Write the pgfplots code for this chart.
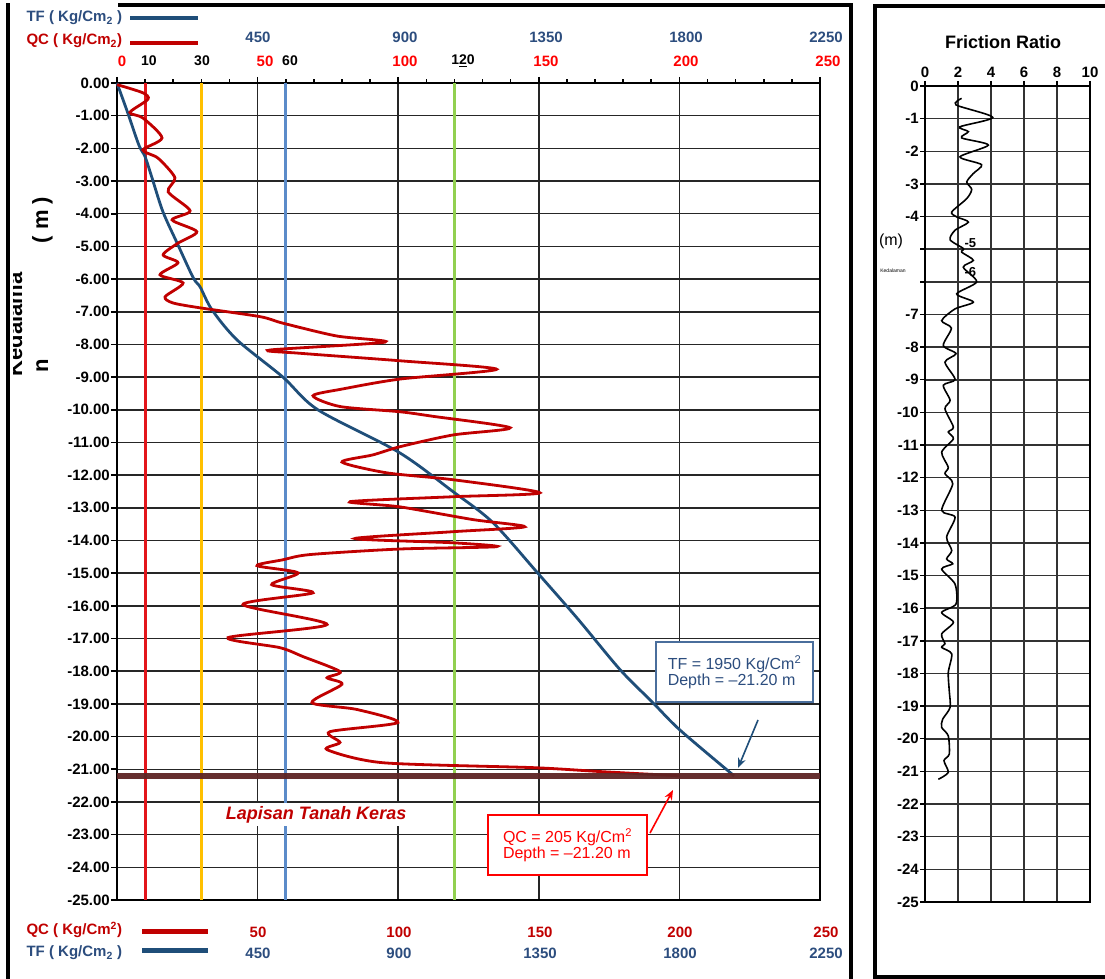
\documentclass[border=0pt]{standalone}
\usepackage{pgfplots}
\pgfplotsset{compat=1.18}
\usepackage{pgfplotstable}
\usepackage{fontspec}
\setmainfont{Liberation Sans}
\usetikzlibrary{arrows.meta}
\definecolor{qcred}{HTML}{C00000}
\definecolor{tfblue}{HTML}{1F4E79}
\definecolor{lblred}{HTML}{FF0000}
\definecolor{lblblue}{HTML}{2C4D7E}
\definecolor{refred}{HTML}{E3151B}
\definecolor{refyel}{HTML}{FFC000}
\definecolor{refblue}{HTML}{5B8BC9}
\definecolor{refgreen}{HTML}{92D050}
\definecolor{brownline}{HTML}{5E2424}
\definecolor{boxblue}{HTML}{4A6E9C}
\newcommand{\fs}[1]{\fontsize{#1}{#1}\selectfont}

\pgfplotstableread{
qc depth
0 -0.05
9.2 -0.30
11 -0.50
4.6 -0.90
9.2 -1.07
16 -1.68
9.2 -2.05
14.6 -2.30
20.6 -2.90
18.2 -3.33
26 -3.91
19.6 -4.19
28.4 -4.55
21.7 -4.90
16.4 -5.26
21.7 -5.50
15.3 -5.87
23.5 -6.12
17.1 -6.54
19.9 -6.73
29.5 -6.88
50.9 -7.15
59 -7.35
78 -7.74
95.3 -7.93
54.4 -8.17
65 -8.27
100.6 -8.50
135 -8.76
100.6 -9.06
80.4 -9.36
69.7 -9.57
79.3 -9.90
100.6 -10.06
112.4 -10.20
139.8 -10.55
119.5 -10.77
100.6 -11.13
91 -11.38
80 -11.60
96 -11.93
119.5 -12.14
150.4 -12.54
119.5 -12.66
82.9 -12.81
100.6 -12.97
126.6 -13.36
145 -13.58
119.5 -13.73
84.6 -13.94
119.5 -14.07
135 -14.19
100.6 -14.26
68.6 -14.43
59 -14.59
49.8 -14.77
64.4 -14.99
55 -15.35
69.7 -15.60
44.8 -15.96
74.7 -16.57
39.5 -16.97
58 -17.28
66.1 -17.55
79.3 -18.01
74.7 -18.20
80 -18.40
69.3 -18.96
85.3 -19.17
99.9 -19.57
75.7 -19.85
79.3 -20.18
74.7 -20.40
94.6 -20.80
148 -20.95
171.8 -21.07
200 -21.20
}\qcdata

\pgfplotstableread{
tf depth
0 0
35 -0.93
70 -1.90
90 -2.26
112 -2.90
147 -3.94
194 -4.93
244 -5.96
266 -6.24
304 -6.94
384 -7.86
531 -9.00
643 -10.00
902 -11.30
1075 -12.50
1203 -13.45
1347 -15.00
1475 -16.40
1610 -17.95
1715 -18.96
1802 -19.80
1975 -21.20
}\tfdata

\pgfplotstableread{
fr depth
2.22 -0.38
1.88 -0.58
4.10 -0.96
2.12 -1.25
2.63 -1.40
2.22 -1.59
3.84 -1.81
2.12 -2.17
3.43 -2.41
2.93 -2.68
2.53 -2.94
2.83 -3.17
2.53 -3.45
1.62 -3.86
1.92 -4.01
2.63 -4.17
1.82 -4.42
1.52 -4.71
2.32 -4.98
2.22 -5.09
2.93 -5.34
2.32 -5.55
3.13 -6.00
1.92 -6.37
2.93 -6.62
1.82 -6.83
1.01 -7.19
1.60 -7.42
1.11 -7.95
1.88 -8.20
1.21 -8.46
1.82 -8.99
1.11 -9.17
1.52 -9.63
1.21 -9.89
1.72 -10.45
1.41 -10.60
1.72 -10.81
1.01 -11.22
1.41 -11.68
1.21 -11.88
1.68 -12.19
1.01 -13.00
1.82 -13.21
1.31 -13.82
1.62 -14.23
1.31 -14.49
1.68 -14.64
1.01 -14.80
1.82 -15.26
1.88 -15.87
1.01 -16.13
1.72 -16.43
1.01 -16.79
1.21 -17.09
1.01 -17.20
1.62 -17.40
1.41 -17.97
1.47 -18.53
1.52 -19.04
1.07 -19.40
1.01 -19.65
1.41 -19.91
1.47 -20.47
1.15 -20.67
1.41 -21.03
0.81 -21.24
}\frdata

\begin{document}
\begin{tikzpicture}[x=1pt,y=1pt]
\useasboundingbox (0,0) rectangle (1105,979);

% ---------- main axis ----------
\begin{axis}[
  at={(117pt,79pt)}, anchor=south west,
  scale only axis, width=703pt, height=817pt,
  xmin=0, xmax=250, ymin=-25, ymax=0,
  xtick={0,50,...,250}, minor xtick={10,20,...,240},
  xticklabels={}, xtick pos=right,
  ytick={-25,-24,...,0},
  yticklabels={-25.00,-24.00,-23.00,-22.00,-21.00,-20.00,-19.00,-18.00,-17.00,-16.00,-15.00,-14.00,-13.00,-12.00,-11.00,-10.00,-9.00,-8.00,-7.00,-6.00,-5.00,-4.00,-3.00,-2.00,-1.00,0.00},
  ytick pos=left,
  tick align=outside,
  major tick length=6pt, minor tick length=3.5pt,
  tick style={black, line width=1.6pt},
  xmajorgrids, ymajorgrids,
  major grid style={black!85, line width=1.5pt},
  axis line style={black, line width=2.8pt},
  yticklabel style={font=\fs{15}\bfseries, inner xsep=1pt},
  clip=false,
]
\addplot[refred, line width=3pt] coordinates {(10,0) (10,-25)};
\addplot[refyel, line width=3pt] coordinates {(30,0) (30,-25)};
\addplot[refblue, line width=3pt] coordinates {(60,0) (60,-25)};
\addplot[refgreen, line width=3pt] coordinates {(120,0) (120,-25)};
\addplot[tfblue, line width=2.8pt, smooth] table[x expr=\thisrow{tf}/9, y=depth] {\tfdata};
\addplot[qcred, line width=2.8pt, smooth, tension=0.45] table[x=qc, y=depth] {\qcdata};
\addplot[brownline, line width=6.5pt, opacity=0.95] coordinates {(0,-21.2) (250,-21.2)};
\node[fill=white, inner xsep=6pt, inner ysep=3pt, text=qcred, font=\fs{18}\bfseries\itshape] at (axis cs:70.8,-22.39) {Lapisan Tanah Keras};
\end{axis}

% ---------- friction ratio axis ----------
\begin{axis}[
  at={(925pt,77pt)}, anchor=south west,
  scale only axis, width=165pt, height=816pt,
  xmin=0, xmax=10, ymin=-25, ymax=0,
  xtick={0,2,...,10}, xticklabels={0,2,4,6,8,10},
  xtick pos=right, xticklabel pos=right,
  ytick={-25,-24,...,0},
  yticklabels={-25,-24,-23,-22,-21,-20,-19,-18,-17,-16,-15,-14,-13,-12,-11,-10,-9,-8,-7,{},{},-4,-3,-2,-1,0},
  ytick pos=left, tick align=outside, major tick length=5pt,
  tick style={black, line width=1.4pt},
  xmajorgrids, ymajorgrids,
  major grid style={black!80, line width=1.5pt},
  axis line style={black, line width=2.8pt},
  ticklabel style={font=\fs{15}\bfseries},
  yticklabel style={inner xsep=1pt},
  clip=false,
]
\addplot[black, line width=1.6pt, smooth, tension=0.45] table[x=fr, y=depth] {\frdata};
\node[font=\fs{13}\bfseries] at (axis cs:2.75,-4.81) {-5};
\node[font=\fs{13}\bfseries] at (axis cs:2.75,-5.70) {-6};
\end{axis}

% ---------- left label and frames ----------
\begin{scope}
\clip (13,0) rectangle (120,979);
\node[rotate=90, anchor=base, font=\fs{22}\bfseries] at (22,654.5) {Kedalama};
\end{scope}
\node[rotate=90, anchor=base, font=\fs{22}\bfseries] at (48,613) {n};
\node[rotate=90, anchor=base, font=\fs{22}\bfseries] at (48,759) {( m )};

\draw[line width=4pt] (8,0) -- (8,976);
\draw[line width=4pt] (118,974) -- (851,974) -- (851,0);
\draw[line width=4pt] (1110,2) -- (875,2) -- (875,975);
\draw[line width=4pt] (873,973) -- (1110,973);

% ---------- top legend & labels ----------
\node[anchor=west, text=lblblue, font=\fs{15}\bfseries] at (23,961) {TF ( Kg/Cm\textsubscript{2} )};
\draw[tfblue, line width=4pt] (130,961) -- (198,961);
\node[anchor=west, text=qcred, font=\fs{15}\bfseries] at (23,938) {QC ( Kg/Cm\textsubscript{2})};
\draw[qcred, line width=4pt] (130,936) -- (198,936);

\begin{scope}[every node/.style={font=\fs{15}\bfseries}]
\node[text=lblblue] at (258,942) {450};
\node[text=lblblue] at (405,942) {900};
\node[text=lblblue] at (546,942) {1350};
\node[text=lblblue] at (686,942) {1800};
\node[text=lblblue] at (826,942) {2250};
\node[text=lblred] at (122,918) {0};
\node[text=black, font=\fs{14}\bfseries] at (149,918) {10};
\node[text=black, font=\fs{14}\bfseries] at (202,918) {30};
\node[text=lblred] at (265,918) {50};
\node[text=black, font=\fs{14}\bfseries] at (290,918) {60};
\node[text=lblred] at (405,918) {100};
\node[text=black, font=\fs{14}\bfseries] at (463,918) {1\underline{2}0};
\node[text=lblred] at (546,918) {150};
\node[text=lblred] at (686,918) {200};
\node[text=lblred] at (828,918) {250};
% bottom rows
\node[anchor=west, text=qcred] at (23,49) {QC ( Kg/Cm\textsuperscript{2})};
\node[anchor=west, text=lblblue] at (23,26) {TF ( Kg/Cm\textsubscript{2} )};
\node[text=qcred] at (258,47) {50};
\node[text=qcred] at (399,47) {100};
\node[text=qcred] at (540,47) {150};
\node[text=qcred] at (680,47) {200};
\node[text=qcred] at (826,47) {250};
\node[text=lblblue] at (258,26) {450};
\node[text=lblblue] at (399,26) {900};
\node[text=lblblue] at (540,26) {1350};
\node[text=lblblue] at (680,26) {1800};
\node[text=lblblue] at (826,26) {2250};
\end{scope}
\draw[qcred, line width=5pt] (142,47) -- (208,47);
\draw[tfblue, line width=5pt] (142,28) -- (208,28);

% ---------- annotations ----------
\node[draw=boxblue, line width=1.6pt, fill=white, text=lblblue, align=left,
      minimum width=157pt, minimum height=60pt, font=\fs{16}] at (734.5,307)
      {TF = 1950 Kg/Cm\textsuperscript{2}\\Depth = --21.20 m};
\draw[tfblue, line width=1.6pt, -{Stealth[length=10pt,width=8pt]}] (758,259) -- (738,211);
\node[draw=lblred, line width=1.6pt, fill=white, text=lblred, align=left,
      minimum width=159pt, minimum height=60pt, font=\fs{16}] at (567.5,134)
      {QC = 205 Kg/Cm\textsuperscript{2}\\Depth = --21.20 m};
\draw[lblred, line width=1.6pt, -{Stealth[length=10pt,width=8pt]}] (650,146) -- (673,189);

% ---------- friction ratio texts ----------
\node[font=\fs{18}\bfseries] at (1003,937) {Friction Ratio};
\node[font=\fs{16}] at (891,738) {(m)};
\node[font=\fs{5}] at (893,708) {Kedalaman};
\end{tikzpicture}
\end{document}
